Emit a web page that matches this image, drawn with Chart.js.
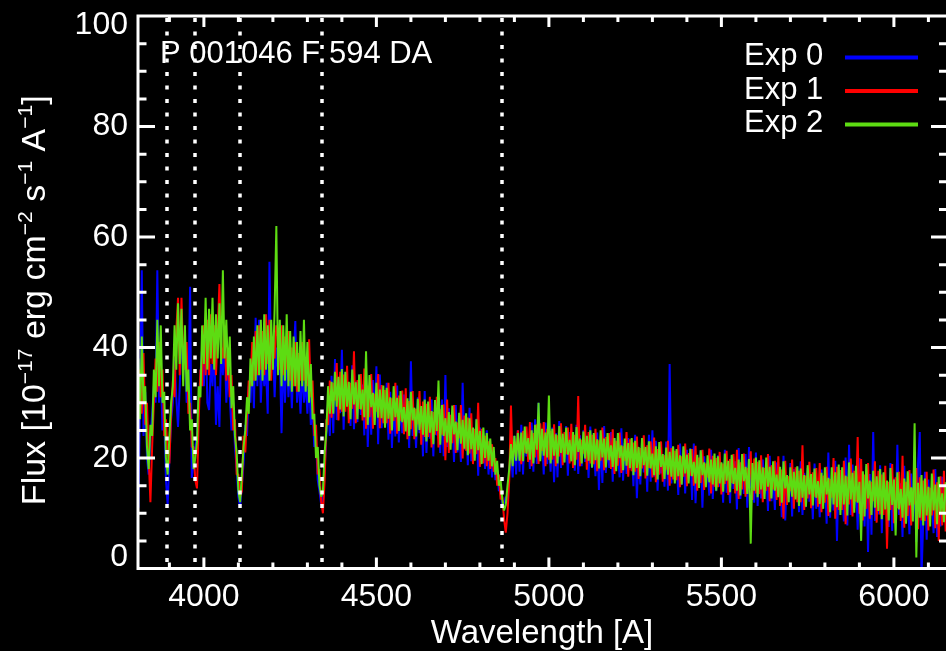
<!DOCTYPE html>
<html lang="en">
<head>
  <meta charset="UTF-8">
  <title>P 001046 F 594 DA</title>
  <script src="https://cdn.jsdelivr.net/npm/chart.js"></script>
  <style>
    html, body { margin: 0; background: #000; }
    canvas { display: block; }
  </style>
</head>
<body>
  <canvas id="spectrum" width="946" height="651"></canvas>
  <script>
    // wavelength grid [A], 5 A bins from 3810 to 6150
    const wavelength = [];
    for (let w = 3810; w <= 6150; w += 5) wavelength.push(w);

    // flux per exposure, 1e-17 erg/cm^2/s/A
    const exp0 = [
      // 3810-4365
      11, 30, 54, 24, 32, 20, 17, 24, 28, 33,
      30, 54, 30, 36, 25, 28, 16, 11.5, 20, 27,
      30, 38, 31, 25.6, 33, 43, 36, 40, 30, 32,
      51, 16.4, 19, 22, 24, 30, 35, 40, 33, 44,
      30, 28.7, 37, 33, 41, 26, 33, 25.6, 40, 35,
      42, 30, 36, 31, 25, 30, 22, 18, 13, 11,
      15, 19, 26, 24, 33, 30, 38, 29, 45.4, 33,
      45, 30, 38, 33, 36, 28, 55.5, 36, 41, 31,
      40, 36, 39, 24.5, 38, 30, 40, 31, 37, 29,
      38, 44.8, 30, 35, 28, 36, 30, 34, 28, 35,
      26, 29, 22, 23, 16, 14, 11.5, 13, 18, 24,
      30, 24,
      // 4370-4795
      34.9, 24.5, 37.9, 26.9, 33.6, 28.1, 39.6, 25.1, 35.5, 29.4,
      31.9, 25.8, 36.8, 25.2, 33.9, 26.5, 35.1, 27.8, 33.3, 24.1,
      35.8, 22, 31.5, 24.2, 34.1, 26.8, 36.6, 22.5, 35.1, 25.4,
      30.9, 26, 33.6, 23.3, 32, 21.8, 29.3, 23.9, 33.1, 22.8,
      30.9, 24.5, 31.5, 25, 29.9, 21.8, 37.5, 24, 28.3, 21.8,
      31, 24.5, 29.4, 20.3, 32.1, 20.9, 28.4, 23.5, 30.6, 20.3,
      29.5, 24.1, 26.3, 20.9, 30.6, 20.3, 35, 22, 29, 22.5,
      27.4, 19.3, 29.6, 21, 25.8, 19.3, 33.6, 21.5, 26.9, 18.7,
      29.1, 19.4, 24.9, 20, 27.1, 16.8, 25.5, 20.1,
      // 4800-4905
      24, 18, 25, 17, 22, 16.5, 21, 16, 18, 14,
      15, 11, 12, 13, 12, 17, 21, 16.5, 24, 17,
      25, 17.5,
      // 4910-6150
      26, 17, 25, 20.3, 22.7, 18, 26.4, 17.5, 27, 18.9,
      30, 19.8, 24.1, 17, 26.4, 18.9, 23.1, 17.5, 25.5, 15.6,
      24.5, 16.5, 26.7, 18.2, 23.4, 19.2, 25.8, 16.8, 24.7, 20,
      22.4, 17.7, 26, 17.1, 24.1, 18.5, 25, 19.3, 23.5, 16.4,
      25.7, 18.2, 22.3, 16.7, 24.6, 14.2, 23.5, 15.5, 25.8, 17.3,
      22.4, 18.2, 24.7, 15.7, 23.6, 18.9, 21.2, 16.5, 25.4, 15.9,
      22.7, 17.1, 23.6, 17.9, 22, 14.9, 24.2, 12.7, 20.8, 15.2,
      23.1, 17.4, 21.9, 13.9, 24.2, 15.7, 25, 16.6, 23.1, 14.1,
      21.9, 17.2, 19.5, 14.8, 23, 14.1, 37, 15.4, 21.9, 16.2,
      20.4, 13.3, 22.6, 15.1, 22, 13.6, 21.5, 15.8, 21.8, 12.4,
      22.6, 11.8, 19.2, 15, 21.4, 11, 20.3, 15.6, 17.9, 13.2,
      21.5, 12.6, 19.6, 14, 20.5, 14.8, 19, 11.9, 21.5, 13.7,
      17.9, 11.8, 20.5, 14.4, 19.4, 10.7, 21.8, 12.6, 18.2, 13.5,
      20.7, 11, 22, 14.5, 17, 11.9, 21, 11.3, 18.9, 12.7,
      19.7, 13.6, 18.1, 10.4, 20.4, 12.2, 16.7, 10.6, 19.2, 13,
      18, 9.3, 20.4, 8.7, 16.7, 12, 19.1, 9.4, 18, 12.9,
      18.4, 10.2, 19.4, 9.7, 17.3, 11.1, 18.2, 12.1, 16.6, 8.9,
      19, 10.8, 15.4, 9.3, 17.9, 11.8, 16.8, 8.1, 21, 9.2,
      16.3, 10.5, 19.5, 5, 18.2, 11.8, 15, 8.5, 20.1, 7.8,
      22.4, 9.7, 18.8, 11, 16.7, 7, 20, 9.6, 15.3, 7.6,
      18.5, 3, 17.1, 6.1, 24.7, 8.6, 15.6, 9.8, 18.7, 6.4,
      17.3, 10.9, 14, 7.5, 19.1, 6.8, 16.3, 8.5, 22.4, 9.7,
      15.4, 5.7, 18.6, 8.2, 13.9, 6.2, 17.2, 9.4, 15.8, 4.8,
      18.9, 24.7, -1.5, 8.6, 17.5, 5.2, 16.1, 9.7, 12.9, 6.4,
      18, 5.7, 15.4, 7.6, 16.6, 8.8, 14.6
    ];
    const exp1 = [
      // 3810-4365
      30, 36, 28, 39, 26, 30, 20, 12, 22, 30,
      38, 32, 41, 31, 36, 24, 27, 21, 19, 28,
      34, 31, 43, 49, 35, 49, 38, 36, 41, 28,
      30, 22, 22, 16, 14.5, 27, 36, 33, 44, 35,
      45, 35, 46, 37, 44, 35, 43, 51.5, 40, 38,
      44, 34, 40, 31, 35, 25, 27, 17, 17, 13,
      14, 24, 21, 28, 34, 33, 41, 34, 43, 35,
      44, 36, 43, 35, 46, 37, 45, 34, 42, 38,
      44, 42, 36, 44, 35, 42, 36, 43, 34, 40,
      33, 41, 32, 39, 34, 41, 34, 38, 33, 41.5,
      31, 34, 24, 26, 17, 18, 12, 10, 16, 27,
      26, 34,
      // 4370-4795
      27.3, 33.6, 30.4, 37.2, 26.8, 35.6, 28.4, 35.1, 28.4, 36.7,
      26.3, 33.6, 28.9, 39.3, 26.3, 34.1, 28.9, 35.2, 26.8, 36.2,
      25.3, 33.1, 27.4, 35.2, 25.3, 31.6, 28.4, 35.2, 25.4, 33.2,
      26.3, 32.3, 26.3, 33.6, 24.4, 30.8, 26.7, 33.6, 24.4, 31.3,
      26.7, 32.2, 24.3, 32.6, 23.4, 30.3, 25.2, 32.1, 23.4, 28.9,
      26.1, 32.1, 22.4, 30.2, 23.8, 29.8, 23.8, 31.1, 21.9, 28.3,
      24.2, 31.1, 21.9, 28.8, 24.2, 29.7, 19.6, 30.6, 20.9, 27.8,
      22.7, 29.6, 20.9, 26.4, 23.6, 29.6, 19.9, 27.7, 21.3, 27.3,
      20.8, 28.1, 18.9, 25.3, 20.7, 30, 18.4, 25.3,
      // 4800-4905
      19, 24, 18.5, 23, 18, 22.5, 17.5, 20, 15, 17,
      12.5, 13, 9, 6.5, 10, 16, 29.5, 19, 23, 20,
      25, 21,
      // 4910-6150
      18.9, 24.9, 20.9, 25.7, 19.3, 26.5, 18.5, 24.5, 20.1, 26.1,
      18.9, 26.3, 21.3, 26.5, 18.5, 25.3, 19.7, 24.9, 19.7, 26.1,
      18.5, 24.1, 20.3, 26.3, 18.7, 24.7, 20.7, 25.5, 19, 26.2,
      18.2, 24.2, 19.7, 31.2, 18.5, 23.3, 20.8, 26, 17.9, 24.7,
      19, 24.2, 18.9, 25.3, 17.6, 23.2, 19.5, 25.5, 17.8, 23.8,
      19.7, 24.5, 18, 25.2, 17.1, 23.1, 18.6, 24.6, 17.3, 22.1,
      19.5, 24.7, 16.6, 23.4, 17.6, 22.8, 17.5, 23.9, 16.2, 21.8,
      18.1, 24.1, 16.3, 22.3, 18.2, 23, 16.5, 23.7, 15.6, 21.6,
      17, 23, 15.7, 20.5, 17.9, 23.1, 15, 21.8, 16.1, 21.3,
      16, 22.4, 14.7, 20.3, 16.6, 22.6, 14.9, 20.9, 16.8, 21.6,
      15, 22.2, 14.1, 20.1, 15.5, 21.5, 14.2, 19, 16.5, 21.7,
      13.6, 20.4, 14.8, 20, 14.7, 21.1, 13.4, 19, 15.3, 21.3,
      13.3, 19.8, 15.5, 20.7, 13.6, 21.5, 12.6, 19.2, 14.3, 20.8,
      13, 18.2, 15.5, 21.2, 12.4, 19.9, 13.6, 19.3, 13.5, 20.5,
      12, 18.2, 14.1, 20.7, 12.2, 18.7, 14.3, 19.5, 12.4, 20.3,
      11.3, 17.9, 9, 19.5, 11.5, 16.7, 14, 19.7, 10.8, 18.3,
      12, 17.7, 12, 22.3, 10.6, 16.8, 12.7, 19.3, 10.9, 17.4,
      13, 18.2, 11.2, 19.1, 10.2, 16.8, 11.9, 18.4, 9.5, 16.2,
      12.8, 20, 9, 18.4, 10.6, 17.8, 10.6, 19.5, 8, 16.6,
      11.6, 19.9, 9.4, 17.7, 12.1, 23.8, 9.9, 19.8, 8.7, 17,
      10.8, 19.1, 9, 15.7, 12.2, 19.4, 8.3, 17.7, 9.8, 17,
      9.7, 18.6, 3.6, 15.7, 10.6, 18.9, 8.2, 16.5, 10.9, 17.5,
      8.6, 20.4, 7.4, 15.7, 9.5, 17.8, 7.8, 14.5, 11.6, 18.2,
      7.1, 16.5, 8.7, 15.9, 8.6, 17.5, 6.9, 14.6, 9.6, 17.9,
      7.3, 15.6, 5, 16.7, 7.8, 17.7, 6.7
    ];
    const exp2 = [
      // 3810-4365
      38, 27, 42, 30, 33, 22, 18, 26, 24, 36,
      31, 45, 33, 44, 30, 32, 20, 17, 24, 30,
      33, 44, 36, 48, 37, 47, 33, 44, 32, 36,
      25, 27, 18, 20, 23, 33, 31, 44, 37, 49,
      36, 47, 38, 49, 36, 46, 38, 48, 37, 54,
      38, 45, 35, 42, 29, 33, 24, 21, 14, 12,
      17, 22, 25, 31, 28, 38, 33, 42, 34, 44,
      35, 45, 34, 46, 36, 44, 34, 45, 36, 47,
      62, 35, 45, 33, 44, 34, 46, 33, 43, 32,
      42, 33, 41, 32, 43, 33, 45, 32, 41, 30,
      37, 27, 28, 20, 22, 15, 13, 14, 21, 25,
      33, 28,
      // 4370-4795
      33.8, 28, 35.6, 29.3, 34.7, 28.8, 36.1, 27.5, 35.6, 29.3,
      33.8, 27, 36, 29.7, 33.7, 27, 35.1, 28.8, 32.4, 27.4,
      39.3, 26, 35, 29.2, 31.8, 26, 33.6, 27.3, 32.4, 27.2,
      33.1, 25.5, 32.7, 27.1, 31, 25, 33, 27.4, 30.9, 24.9,
      32.1, 26.5, 29.2, 24.8, 30.8, 24, 32, 26.8, 29.1, 23.9,
      30.7, 25.1, 29.4, 24.2, 30.6, 23, 30.2, 24.6, 28.5, 22.5,
      30.5, 24.9, 34, 22.4, 29.6, 24, 27.2, 22.8, 28.3, 21.5,
      29.5, 24.3, 26.6, 21.4, 28.2, 22.6, 26.9, 21.7, 28.1, 20.5,
      27.2, 21.6, 25.5, 19.5, 27, 21.4, 24.9, 18.9,
      // 4800-4905
      25.5, 20, 24.5, 19.5, 23.5, 18.5, 22, 17, 19.5, 15,
      16, 12.5, 10.5, 11.5, 15, 18, 22.5, 18.5, 24, 19.5,
      24.5, 19.5,
      // 4910-6150
      24.6, 19.4, 25.7, 20.8, 23.6, 19.7, 25, 19, 26, 21.5,
      30, 19.4, 25.3, 20.4, 24.6, 20.1, 31.3, 19, 25.3, 20.4,
      24.3, 19, 25.8, 20.9, 24.4, 19.2, 25.5, 20.6, 23.3, 19.4,
      24.7, 18.7, 25.6, 21.1, 23.5, 19, 24.8, 19.9, 24, 19.5,
      25, 18.3, 24.5, 19.6, 23.4, 18.1, 25, 20.1, 23.5, 18.3,
      24.5, 19.6, 22.3, 18.4, 23.6, 17.6, 24.5, 20, 22.3, 17.8,
      23.5, 18.6, 22.7, 18.2, 23.6, 16.9, 23.1, 18.2, 22, 16.7,
      23.6, 18.7, 22, 16.8, 23, 18.1, 20.8, 16.9, 22.1, 16.1,
      22.9, 18.4, 20.7, 16.2, 21.9, 17, 21.1, 16.6, 22.1, 15.4,
      21.6, 16.7, 20.5, 15.2, 22.1, 17.2, 20.6, 15.4, 21.6, 16.7,
      19.3, 15.4, 20.6, 14.6, 21.4, 16.9, 19.2, 14.7, 20.5, 15.6,
      19.7, 15.2, 20.8, 14.1, 20.3, 15.4, 19.2, 13.9, 20.8, 15.9,
      19.5, 13.8, 20.6, 15.3, 18.2, 14.1, 19.7, 13.2, 20.7, 15.8,
      18.4, 13.5, 19.8, 4.5, 19.1, 14.1, 20.1, 12.9, 19.6, 14.3,
      18.3, 12.6, 20.1, 14.8, 18.4, 12.7, 19.4, 14.1, 17, 12.9,
      18.4, 11.9, 19.4, 14.5, 16.9, 12, 18.3, 13, 17.5, 12.5,
      18.5, 11.3, 18.1, 12.8, 16.9, 11.2, 18.7, 13.4, 17.1, 11.4,
      18.1, 12.8, 15.8, 11.7, 17.3, 10.8, 18.3, 13.4, 16.4, 10.2,
      18.3, 11.6, 17.4, 11.1, 18.8, 9.7, 18.3, 11.6, 16.8, 9.6,
      19.2, 12.5, 17.3, 10.1, 18.6, 11.9, 15.7, 5, 17.6, 9.4,
      18.9, 12.7, 15.9, 9.7, 17.7, 11, 16.7, 10.4, 18, 8.9,
      17.4, 10.7, 15.9, 8.7, 18.2, 11.5, 16.1, 6, 17.4, 10.7,
      14.4, 9.2, 16.3, 8.1, 17.6, 11.4, 14.7, 8.5, 26.3, 2,
      15.5, 9.2, 16.9, 7.8, 16.3, 9.6, 14.8, 7.6, 17.2, 10.5,
      15.2, 8, 16.6, 9.9, 13.6, 8.4, 15.6
    ];

    const seriesLabels = ['Exp 0', 'Exp 1', 'Exp 2'];
    const seriesColors = ['#0000ff', '#ff0000', '#5ddc12'];
    // Balmer lines H8, He, Hd, Hg, Hb
    const lineMarks = [3893, 3973, 4104, 4343, 4864];
    const xTicks = [4000, 4500, 5000, 5500, 6000];
    const yTicks = [0, 20, 40, 60, 80, 100];
    const objectLabel = 'P 001046 F 594 DA';

    const FONT = '"Liberation Sans", Arial, Helvetica, sans-serif';

    // IDL-style frame: inward ticks, dotted line marks, labels, legend
    const idlFrame = {
      id: 'idlFrame',
      afterDraw(chart) {
        const { ctx, chartArea: a, scales: { x, y } } = chart;
        ctx.save();
        ctx.strokeStyle = '#fff';
        ctx.fillStyle = '#fff';

        ctx.lineWidth = 3.5;
        ctx.setLineDash([4, 9.5]);
        lineMarks.forEach(w => {
          const px = Math.round(x.getPixelForValue(w));
          ctx.beginPath();
          ctx.moveTo(px, a.top + 2);
          ctx.lineTo(px, a.bottom);
          ctx.stroke();
        });
        ctx.setLineDash([]);

        // axes box; the right edge sits just past the canvas
        ctx.lineWidth = 3;
        ctx.beginPath();
        ctx.moveTo(a.right + 2, a.top);
        ctx.lineTo(a.left, a.top);
        ctx.lineTo(a.left, a.bottom);
        ctx.lineTo(a.right + 2, a.bottom);
        ctx.stroke();

        ctx.beginPath();
        for (let w = 3900; w <= 6100; w += 100) {
          const px = x.getPixelForValue(w);
          const len = w % 500 === 0 ? 11 : 6;
          ctx.moveTo(px, a.bottom); ctx.lineTo(px, a.bottom - len);
          ctx.moveTo(px, a.top); ctx.lineTo(px, a.top + len);
        }
        for (let f = 5; f < 100; f += 5) {
          const py = y.getPixelForValue(f);
          const major = f % 20 === 0;
          ctx.moveTo(a.left, py); ctx.lineTo(a.left + (major ? 17 : 8.5), py);
          ctx.moveTo(a.right, py); ctx.lineTo(a.right - (major ? 15 : 7), py);
        }
        ctx.stroke();

        // y tick labels, end ones kept inside the axis span
        ctx.font = '32px ' + FONT;
        ctx.textAlign = 'right';
        ctx.textBaseline = 'middle';
        yTicks.forEach(v => {
          const py = Math.min(Math.max(y.getPixelForValue(v), a.top + 9), a.bottom - 11.5);
          ctx.fillText(String(v), a.left - 10, py);
        });

        // y axis title with superscripts
        const parts = [
          ['Flux [10', false], ['\u221217', true], [' erg cm', false], ['\u22122', true],
          [' s', false], ['\u22121', true], [' A', false], ['\u22121', true], [']', false]
        ];
        const big = '34px ' + FONT, small = '21px ' + FONT;
        let total = 0;
        parts.forEach(([t, sup]) => { ctx.font = sup ? small : big; total += ctx.measureText(t).width; });
        ctx.save();
        ctx.translate(45, (a.top + a.bottom) / 2 + 8);
        ctx.rotate(-Math.PI / 2);
        ctx.textAlign = 'left';
        ctx.textBaseline = 'alphabetic';
        let cx = -total / 2;
        parts.forEach(([t, sup]) => {
          ctx.font = sup ? small : big;
          ctx.fillText(t, cx, sup ? -13 : 0);
          cx += ctx.measureText(t).width;
        });
        ctx.restore();

        ctx.font = '31px ' + FONT;
        ctx.textAlign = 'left';
        ctx.textBaseline = 'alphabetic';
        ctx.fillText(objectLabel, 160, 63);

        // legend: label, then a line sample in the series colour
        chart.data.datasets.forEach((ds, k) => {
          const ly = 57.5 + k * 33.5;
          ctx.fillStyle = '#fff';
          ctx.fillText(ds.label, 744, ly + 7.5);
          ctx.strokeStyle = ds.borderColor;
          ctx.lineWidth = 4;
          ctx.beginPath();
          ctx.moveTo(845, ly);
          ctx.lineTo(918, ly);
          ctx.stroke();
        });
        ctx.restore();
      }
    };

    const series = [exp0, exp1, exp2];

    new Chart(document.getElementById('spectrum'), {
      type: 'line',
      data: {
        datasets: series.map((vals, k) => ({
          label: seriesLabels[k],
          data: vals.map((f, i) => ({ x: wavelength[i], y: f })),
          borderColor: seriesColors[k],
          borderWidth: 2,
          borderJoinStyle: 'bevel',
          pointRadius: 0,
          tension: 0,
          order: 3 - k,
        })),
      },
      options: {
        responsive: false,
        animation: false,
        events: [],
        layout: { padding: { top: 16, right: 0, bottom: 0, left: 0 } },
        plugins: { legend: { display: false }, tooltip: { enabled: false } },
        scales: {
          x: {
            type: 'linear',
            min: 3809,
            max: 6151,
            afterBuildTicks: s => { s.ticks = xTicks.map(v => ({ value: v })); },
            afterFit: s => { s.height = 82.5; },
            grid: { display: false, drawTicks: false },
            border: { display: false },
            ticks: {
              color: '#fff',
              font: { family: FONT, size: 32, lineHeight: 1 },
              padding: 13,
              maxRotation: 0,
              autoSkip: false,
              callback: v => String(v),
            },
            title: {
              display: true,
              text: 'Wavelength [A]',
              color: '#fff',
              font: { family: FONT, size: 33, lineHeight: 1 },
              padding: { top: 0, bottom: 1 },
            },
          },
          y: {
            min: 0,
            max: 100,
            afterBuildTicks: s => { s.ticks = yTicks.map(v => ({ value: v })); },
            afterFit: s => { s.width = 138; },
            grid: { display: false, drawTicks: false },
            border: { display: false },
            ticks: { display: false },
          },
        },
      },
      plugins: [idlFrame],
    });
  </script>
</body>
</html>
